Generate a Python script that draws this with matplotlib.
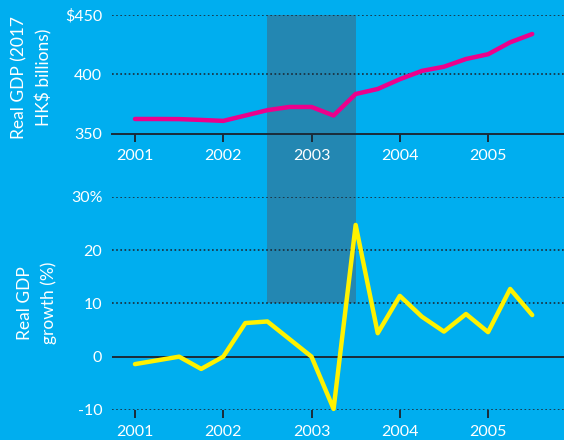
import matplotlib
matplotlib.use("Agg")
import matplotlib.pyplot as plt
from matplotlib.patches import Rectangle

# quarterly data, 2001Q1 - 2005Q3
quarters = ["2001Q1", "2001Q2", "2001Q3", "2001Q4",
            "2002Q1", "2002Q2", "2002Q3", "2002Q4",
            "2003Q1", "2003Q2", "2003Q3", "2003Q4",
            "2004Q1", "2004Q2", "2004Q3", "2004Q4",
            "2005Q1", "2005Q2", "2005Q3"]
real_gdp = [362.6, 362.6, 362.5, 361.8, 361.0, 365.5, 370.0, 372.7,
            372.7, 365.5, 383.6, 387.8, 396.0, 403.0, 406.5, 413.0,
            417.0, 427.0, 434.0]
gdp_growth = [-1.4, -0.7, 0.0, -2.3, 0.0, 6.3, 6.6, 3.3,
              0.0, -9.8, 24.7, 4.4, 11.4, 7.5, 4.7, 8.0,
              4.6, 12.7, 7.8]
year_ticks = [2001, 2002, 2003, 2004, 2005]
shade_start, shade_end = 2002.5, 2003.5   # highlighted period (SARS)
shade_floor = 10                          # shading stops at 10% on the growth panel

x = [int(q[:4]) + (int(q[-1]) - 1) / 4 for q in quarters]

BG = "#00AEEF"
SHADE = "#2387B2"
DARK = "#1B2B38"
DOTS = (0, (1, 1.5))
plt.rcParams["font.family"] = ["Lato", "DejaVu Sans"]

fig = plt.figure(figsize=(5.64, 4.40), dpi=100, facecolor=BG)
ax_top = fig.add_axes([0.1986, 0.6955, 0.8014, 0.2705])
ax_bot = fig.add_axes([0.1986, 0.0682, 0.8014, 0.4848])

for ax in (ax_top, ax_bot):
    ax.set_facecolor("none")
    ax.set_xlim(2000.74, 2005.86)
    ax.set_xticks(year_ticks)
    ax.set_xticklabels([str(y) for y in year_ticks])
    for s in ("top", "right", "left"):
        ax.spines[s].set_visible(False)
    ax.tick_params(axis="x", colors=DARK, length=6, width=1.4, pad=5,
                   labelcolor="white", labelsize=11.5)
    ax.tick_params(axis="y", length=0, pad=7, labelcolor="white", labelsize=11.5)

# top panel: GDP level
ax_top.set_ylim(350, 450)
ax_top.set_yticks([350, 400, 450])
ax_top.set_yticklabels(["350", "400", "$450"])
ax_top.spines["bottom"].set_color(DARK)
ax_top.spines["bottom"].set_linewidth(1.4)
for v in (400, 450):
    ax_top.axhline(v, color=DARK, lw=1.2, ls=DOTS, zorder=1)
ax_top.plot(x, real_gdp, color="#EC008C", lw=3.2, solid_capstyle="round",
            solid_joinstyle="round", zorder=3, clip_on=False)

# bottom panel: GDP growth
ax_bot.set_ylim(-10, 30)
ax_bot.set_yticks([-10, 0, 10, 20, 30])
ax_bot.set_yticklabels(["-10", "0", "10", "20", "30%"])
ax_bot.spines["bottom"].set_visible(False)
for v in (-10, 10, 20, 30):
    ax_bot.axhline(v, color=DARK, lw=1.2, ls=DOTS, zorder=1)
ax_bot.axhline(0, color=DARK, lw=1.4, zorder=2)
ax_bot.plot(x, gdp_growth, color="#FFF200", lw=3.2, solid_capstyle="round",
            solid_joinstyle="round", zorder=3, clip_on=False)

# shaded period spanning both panels
inv = fig.transFigure.inverted()
x0, y0 = inv.transform(ax_bot.transData.transform((shade_start, shade_floor)))
x1, _ = inv.transform(ax_bot.transData.transform((shade_end, shade_floor)))
_, y1 = inv.transform(ax_top.transAxes.transform((0, 1)))
fig.patches.append(Rectangle((x0, y0), x1 - x0, y1 - y0, transform=fig.transFigure,
                             facecolor=SHADE, edgecolor="none", zorder=-1))

fig.text(32 / 564, 1 - 77 / 440, "Real GDP (2017\nHK$ billions)", rotation=90,
         ha="center", va="center", multialignment="center", color="white",
         fontsize=12.5, linespacing=1.55)
fig.text(37 / 564, 1 - 303 / 440, "Real GDP\ngrowth (%)", rotation=90,
         ha="center", va="center", multialignment="center", color="white",
         fontsize=12.5, linespacing=1.55)

fig.savefig("out.png", facecolor=BG)
